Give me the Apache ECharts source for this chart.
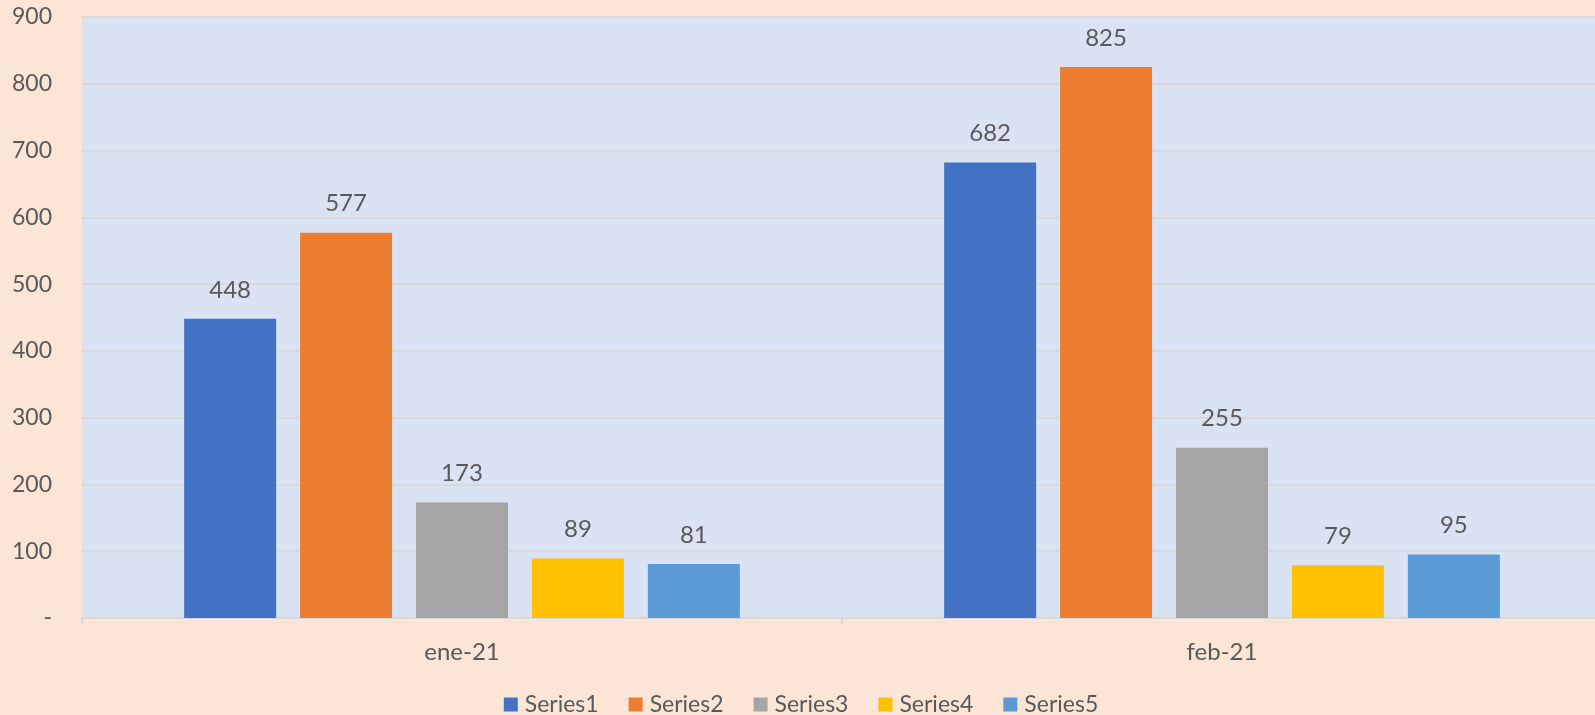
<!DOCTYPE html>
<html>
<head>
<meta charset="utf-8">
<script src="https://cdn.jsdelivr.net/npm/echarts@6/dist/echarts.min.js"></script>
<style>
  html, body { margin: 0; padding: 0; background: #FBE5D6; overflow: hidden; }
  #main { width: 1602px; height: 715px; }
</style>
</head>
<body>
<div id="main"></div>
<script>
var categories = ['ene-21', 'feb-21'];
var seriesNames = ['Series1', 'Series2', 'Series3', 'Series4', 'Series5'];
var series1 = [448, 682];
var series2 = [577, 825];
var series3 = [173, 255];
var series4 = [89, 79];
var series5 = [81, 95];
var colors = ['#4472C4', '#ED7D31', '#A5A5A5', '#FFC000', '#5B9BD5'];

var chartDom = document.getElementById('main');
var myChart = echarts.init(chartDom);
var font = 'Lato, "Open Sans", sans-serif';

var allValues = [series1, series2, series3, series4, series5];
var series = allValues.map(function (vals, i) {
  return {
    name: seriesNames[i],
    type: 'bar',
    data: vals,
    barWidth: 92,
    barGap: '26%',
    itemStyle: { color: colors[i] },
    label: {
      show: true,
      position: 'top',
      distance: 17,
      color: '#595959',
      fontSize: 24,
      fontFamily: font
    }
  };
});

var option = {
  backgroundColor: '#FBE5D6',
  color: colors,
  animation: false,
  grid: {
    left: 82,
    top: 17,
    right: 0,
    bottom: 97,
    show: true,
    backgroundColor: '#DAE3F3',
    borderWidth: 0
  },
  legend: {
    top: 688,
    icon: 'rect',
    itemWidth: 14,
    itemHeight: 14,
    itemGap: 30,
    textStyle: { color: '#595959', fontSize: 23, fontFamily: font, padding: [0, 0, 0, 2] }
  },
  xAxis: {
    type: 'category',
    data: categories,
    axisLine: { lineStyle: { color: '#D9D9D9', width: 2 } },
    axisTick: { show: true, length: 6, lineStyle: { color: '#D9D9D9', width: 2 } },
    axisLabel: { color: '#595959', fontSize: 24, fontFamily: font, margin: 22 }
  },
  yAxis: {
    type: 'value',
    min: 0,
    max: 900,
    interval: 100,
    axisLine: { show: false },
    axisTick: { show: false },
    splitLine: { lineStyle: { color: '#D9D9D9', width: 2 } },
    axisLabel: {
      color: '#595959',
      fontSize: 23,
      fontFamily: font,
      margin: 30,
      formatter: function (v) { return v === 0 ? '-' : v; }
    }
  },
  series: series
};

myChart.setOption(option);
</script>
</body>
</html>
